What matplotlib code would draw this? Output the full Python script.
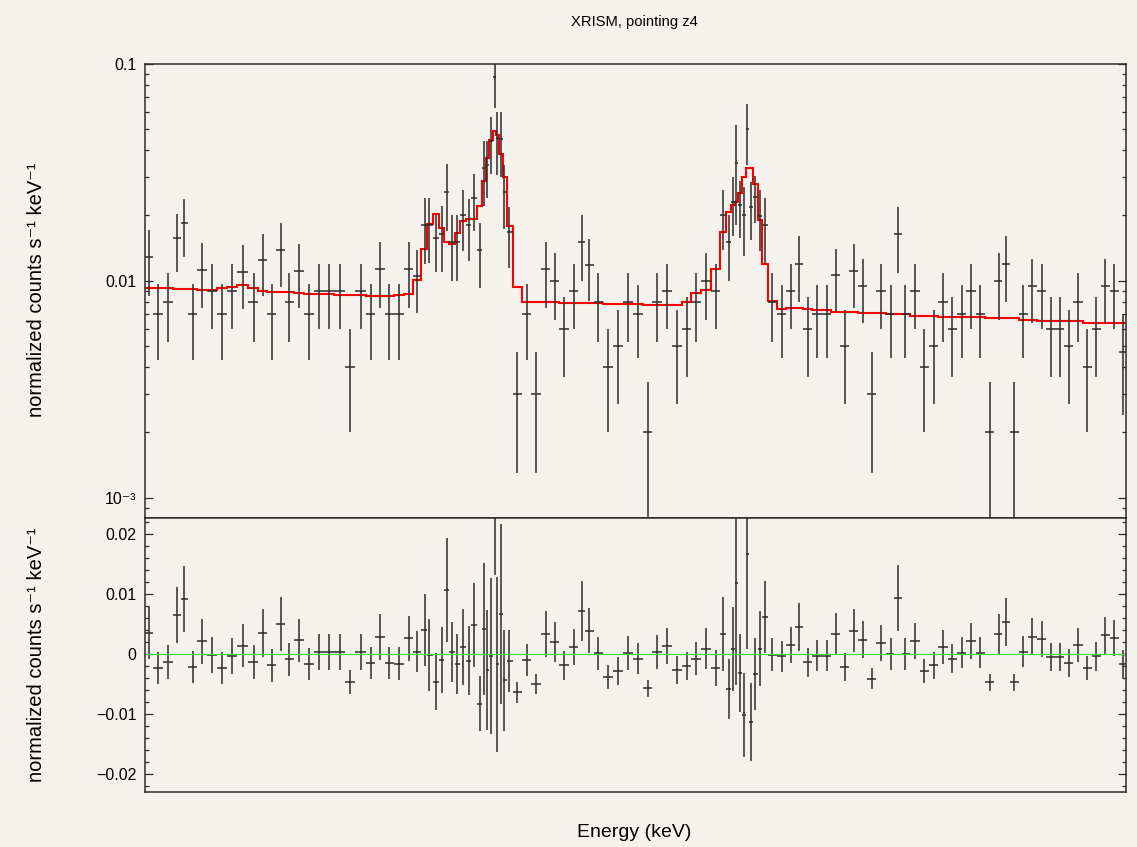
import numpy as np
import matplotlib.pyplot as plt
from matplotlib.ticker import LogLocator, NullFormatter, MultipleLocator

# bin centres (keV)
energy = [6.2037, 6.2127, 6.2233, 6.2323, 6.2390, 6.2477, 6.2570, 6.2667, 6.2767, 6.2870,
          6.2980, 6.3087, 6.3177, 6.3270, 6.3357, 6.3440, 6.3543, 6.3640, 6.3743, 6.3843,
          6.3947, 6.4050, 6.4157, 6.4257, 6.4350, 6.4443, 6.4543, 6.4637, 6.4723, 6.4800,
          6.4843, 6.4910, 6.4967, 6.5020, 6.5070, 6.5123, 6.5183, 6.5237, 6.5290, 6.5347,
          6.5393, 6.5420, 6.5460, 6.5497, 6.5523, 6.5563, 6.5590, 6.5643, 6.5720, 6.5820,
          6.5910, 6.6013, 6.6097, 6.6193, 6.6290, 6.6370, 6.6440, 6.6533, 6.6630, 6.6730,
          6.6830, 6.6927, 6.7027, 6.7123, 6.7223, 6.7320, 6.7417, 6.7513, 6.7613, 6.7710,
          6.7783, 6.7837, 6.7880, 6.7913, 6.7953, 6.7990, 6.8023, 6.8060, 6.8103, 6.8150,
          6.8197, 6.8267, 6.8367, 6.8460, 6.8543, 6.8627, 6.8723, 6.8817, 6.8907, 6.8997,
          6.9087, 6.9177, 6.9267, 6.9360, 6.9457, 6.9533, 6.9603, 6.9700, 6.9793, 6.9887,
          6.9980, 7.0073, 7.0167, 7.0263, 7.0353, 7.0447, 7.0537, 7.0613, 7.0693, 7.0783,
          7.0873, 7.0967, 7.1057, 7.1147, 7.1237, 7.1330, 7.1423, 7.1513, 7.1603, 7.1693,
          7.1780]

# normalized counts s^-1 keV^-1
counts = [0.0128, 0.0070, 0.0080, 0.0157, 0.0184, 0.0070, 0.0112, 0.0090, 0.0070, 0.0090,
          0.0110, 0.0080, 0.0125, 0.0070, 0.0139, 0.0080, 0.0111, 0.0070, 0.0090, 0.0090,
          0.0090, 0.0040, 0.0090, 0.0070, 0.0113, 0.0070, 0.0070, 0.0113, 0.0105, 0.0180,
          0.0181, 0.0157, 0.0165, 0.0257, 0.0150, 0.0150, 0.0200, 0.0181, 0.0240, 0.0139,
          0.0330, 0.0340, 0.0440, 0.0866, 0.0453, 0.0450, 0.0257, 0.0167, 0.0030, 0.0070,
          0.0030, 0.0113, 0.0100, 0.0060, 0.0090, 0.0150, 0.0118, 0.0080, 0.0040, 0.0050,
          0.0080, 0.0070, 0.0020, 0.0080, 0.0090, 0.0050, 0.0060, 0.0080, 0.0100, 0.0090,
          0.0200, 0.0150, 0.0231, 0.0350, 0.0223, 0.0200, 0.0498, 0.0219, 0.0244, 0.0199,
          0.0180, 0.0080, 0.0070, 0.0090, 0.0120, 0.0060, 0.0070, 0.0070, 0.0106, 0.0050,
          0.0111, 0.0095, 0.0030, 0.0090, 0.0070, 0.0164, 0.0070, 0.0090, 0.0040, 0.0050,
          0.0080, 0.0060, 0.0070, 0.0090, 0.0070, 0.0020, 0.0100, 0.0120, 0.0020, 0.0070,
          0.0095, 0.0090, 0.0060, 0.0060, 0.0050, 0.0080, 0.0040, 0.0060, 0.0095, 0.0090,
          0.0047]

errors = [0.0043, 0.0027, 0.0028, 0.0047, 0.0055, 0.0027, 0.0037, 0.0030, 0.0027, 0.0030,
          0.0036, 0.0028, 0.0040, 0.0027, 0.0045, 0.0028, 0.0036, 0.0027, 0.0030, 0.0030,
          0.0030, 0.0020, 0.0030, 0.0027, 0.0038, 0.0027, 0.0027, 0.0038, 0.0034, 0.0060,
          0.0060, 0.0047, 0.0055, 0.0087, 0.0050, 0.0050, 0.0063, 0.0058, 0.0070, 0.0046,
          0.0110, 0.0100, 0.0130, 0.0243, 0.0146, 0.0150, 0.0084, 0.0052, 0.0017, 0.0027,
          0.0017, 0.0038, 0.0034, 0.0024, 0.0030, 0.0050, 0.0037, 0.0028, 0.0020, 0.0023,
          0.0028, 0.0026, 0.0014, 0.0028, 0.0030, 0.0023, 0.0024, 0.0028, 0.0034, 0.0030,
          0.0062, 0.0050, 0.0070, 0.0170, 0.0065, 0.0070, 0.0157, 0.0065, 0.0060, 0.0062,
          0.0060, 0.0028, 0.0026, 0.0030, 0.0040, 0.0024, 0.0026, 0.0026, 0.0034, 0.0023,
          0.0036, 0.0031, 0.0017, 0.0030, 0.0026, 0.0055, 0.0026, 0.0030, 0.0020, 0.0023,
          0.0028, 0.0024, 0.0026, 0.0030, 0.0026, 0.0014, 0.0034, 0.0040, 0.0014, 0.0026,
          0.0031, 0.0030, 0.0024, 0.0024, 0.0023, 0.0028, 0.0020, 0.0024, 0.0031, 0.0030,
          0.0023]

# folded model, one value per bin
model = [0.0093, 0.0093, 0.0093, 0.0092, 0.0092, 0.0092, 0.0091, 0.0091, 0.0093, 0.0094,
         0.0096, 0.0093, 0.0090, 0.0089, 0.0089, 0.0089, 0.0088, 0.0087, 0.0087, 0.0087,
         0.0086, 0.0086, 0.0086, 0.0085, 0.0085, 0.0085, 0.0086, 0.0087, 0.0101, 0.0140,
         0.0182, 0.0203, 0.0175, 0.0150, 0.0147, 0.0166, 0.0188, 0.0192, 0.0192, 0.0222,
         0.0289, 0.0366, 0.0443, 0.0491, 0.0470, 0.0383, 0.0301, 0.0179, 0.0094, 0.0080,
         0.0080, 0.0080, 0.0080, 0.0079, 0.0079, 0.0079, 0.0079, 0.0079, 0.0078, 0.0078,
         0.0078, 0.0078, 0.0077, 0.0077, 0.0077, 0.0077, 0.0080, 0.00875, 0.0091, 0.0113,
         0.0167, 0.0208, 0.0223, 0.0231, 0.0254, 0.0301, 0.0332, 0.0332, 0.0278, 0.0190,
         0.0119, 0.0081, 0.0074, 0.0075, 0.0075, 0.0074, 0.0073, 0.0073, 0.0072, 0.0072,
         0.0072, 0.0071, 0.0071, 0.0071, 0.0070, 0.0070, 0.0070, 0.0069, 0.0069, 0.0069,
         0.0068, 0.0068, 0.0068, 0.0068, 0.0068, 0.0067, 0.0067, 0.0067, 0.0067, 0.0066,
         0.0066, 0.0065, 0.0065, 0.0065, 0.0065, 0.0065, 0.0064, 0.0064, 0.0064, 0.0064,
         0.0064]

energy = np.array(energy)
counts = np.array(counts)
errors = np.array(errors)
model = np.array(model)

# bin edges halfway between centres
mid = (energy[1:] + energy[:-1]) / 2
edges = np.concatenate([[energy[0] - (mid[0] - energy[0])], mid,
                        [energy[-1] + (energy[-1] - mid[-1])]])
xerr = [energy - edges[:-1], edges[1:] - energy]
resid = counts - model

bg = '#f5f2ed'
dark = '#2b2b2b'
plt.rcParams['font.family'] = ['Liberation Sans', 'DejaVu Sans']
plt.rcParams['font.size'] = 11.5

fig = plt.figure(figsize=(11.37, 8.47), dpi=100, facecolor=bg)
ax1 = fig.add_axes([0.1275, 0.3884, 0.8628, 0.5364], facecolor=bg)
ax2 = fig.add_axes([0.1275, 0.0649, 0.8628, 0.3235], facecolor=bg, sharex=ax1)

# data + model
ax1.errorbar(energy, counts, xerr=xerr, yerr=errors, fmt='none',
             ecolor=dark, elinewidth=1.1, capsize=0)
ax1.stairs(model, edges, baseline=None, color='#ff0000', linewidth=1.5)
ax1.set_yscale('log')
ax1.set_ylim(8.06e-4, 0.1)
ax1.set_yticks([1e-3, 1e-2, 1e-1], labels=['10⁻³', '0.01', '0.1'])
ax1.yaxis.set_minor_locator(LogLocator(base=10, subs=np.arange(2, 10)))
ax1.yaxis.set_minor_formatter(NullFormatter())

# residuals
ax2.errorbar(energy, resid, xerr=xerr, yerr=errors, fmt='none',
             ecolor=dark, elinewidth=1.1, capsize=0)
ax2.axhline(0, color='#44dd44', linewidth=0.9)
ax2.set_ylim(-0.0230, 0.02267)
ax2.set_yticks([-0.02, -0.01, 0, 0.01, 0.02], labels=['−0.02', '−0.01', '0', '0.01', '0.02'])
ax2.yaxis.set_minor_locator(MultipleLocator(0.002))

ax1.set_xlim(6.200, 7.181)
for ax in (ax1, ax2):
    ax.set_xticks([])
    ax.tick_params(axis='y', which='major', direction='in', length=6, width=0.9,
                   left=True, right=True, color=dark, pad=6)
    ax.tick_params(axis='y', which='minor', direction='in', length=3.2, width=0.9,
                   left=True, right=True, color=dark)
    for s in ax.spines.values():
        s.set_color(dark)
        s.set_linewidth(1.1)

ylab = 'normalized counts s⁻¹ keV⁻¹'
fig.text(0.0325, 1 - 290 / 847, ylab, rotation=90, ha='center', va='center', fontsize=14.5)
fig.text(0.0325, 1 - 655 / 847, ylab, rotation=90, ha='center', va='center', fontsize=14.5)
fig.text(0.5576, 1 - 22 / 847, 'XRISM, pointing z4', ha='center', va='center', fontsize=10.6)
fig.text(0.5576, 1 - 832 / 847, 'Energy (keV)', ha='center', va='center', fontsize=14)

fig.savefig('out.png', dpi=100, facecolor=bg)
